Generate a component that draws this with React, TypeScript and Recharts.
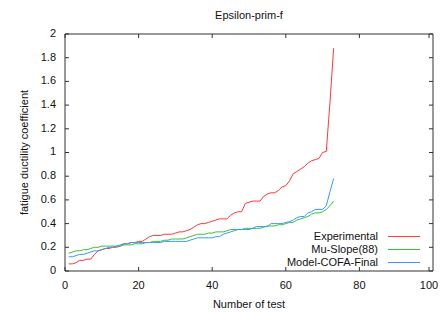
import React from "react";
import { LineChart, Line, XAxis, YAxis, Legend, Label } from "recharts";

const experimental = [
  0.06, 0.06, 0.07, 0.09, 0.09, 0.1, 0.1, 0.14, 0.17, 0.18,
  0.19, 0.19, 0.2, 0.2, 0.21, 0.23, 0.23, 0.24, 0.24, 0.25,
  0.25, 0.27, 0.29, 0.3, 0.3, 0.3, 0.31, 0.31, 0.31, 0.32,
  0.33, 0.33, 0.34, 0.35, 0.37, 0.39, 0.4, 0.4, 0.41, 0.42,
  0.43, 0.44, 0.44, 0.44, 0.47, 0.49, 0.5, 0.5, 0.57, 0.58,
  0.59, 0.59, 0.59, 0.63, 0.65, 0.66, 0.66, 0.68, 0.71, 0.72,
  0.76, 0.82, 0.84, 0.86, 0.88, 0.91, 0.93, 0.94, 0.95, 1.0,
  1.01, 1.42, 1.88,
];

const muSlope = [
  0.15, 0.16, 0.17, 0.17, 0.18, 0.18, 0.19, 0.2, 0.2, 0.21,
  0.21, 0.21, 0.21, 0.21, 0.21, 0.22, 0.22, 0.22, 0.23, 0.23,
  0.23, 0.24, 0.24, 0.25, 0.25, 0.25, 0.26, 0.26, 0.27, 0.27,
  0.27, 0.27, 0.28, 0.29, 0.3, 0.31, 0.31, 0.31, 0.32, 0.32,
  0.33, 0.33, 0.33, 0.34, 0.35, 0.35, 0.35, 0.35, 0.36, 0.36,
  0.36, 0.36, 0.36, 0.37, 0.38, 0.38, 0.38, 0.39, 0.39, 0.4,
  0.41, 0.41, 0.43, 0.44, 0.45, 0.46, 0.48, 0.49, 0.49, 0.5,
  0.52, 0.55, 0.59,
];

const cofaFinal = [
  0.12, 0.12, 0.13, 0.14, 0.14, 0.15, 0.16, 0.17, 0.17, 0.18,
  0.19, 0.2, 0.2, 0.21, 0.22, 0.23, 0.23, 0.24, 0.24, 0.24,
  0.24, 0.24, 0.24, 0.24, 0.24, 0.24, 0.25, 0.25, 0.25, 0.25,
  0.25, 0.25, 0.25, 0.26, 0.27, 0.28, 0.28, 0.28, 0.28, 0.28,
  0.29, 0.29, 0.31, 0.32, 0.33, 0.34, 0.35, 0.35, 0.35, 0.35,
  0.36, 0.375, 0.375, 0.375, 0.375, 0.4, 0.4, 0.4, 0.4, 0.41,
  0.415, 0.43, 0.45, 0.46, 0.46, 0.49, 0.5, 0.52, 0.52, 0.52,
  0.55, 0.67, 0.78,
];

const xTicks = [0, 20, 40, 60, 80, 100];
const yTicks = [0, 0.2, 0.4, 0.6, 0.8, 1, 1.2, 1.4, 1.6, 1.8, 2];

const seriesNames = ["Experimental", "Mu-Slope(88)", "Model-COFA-Final"];
const seriesColors = ["#ff3838", "#38c038", "#3898ff"];

const data = experimental.map((v, i) => ({
  test: i + 1,
  exp: v,
  mu: muSlope[i],
  cofa: cofaFinal[i],
}));

const FONT = "'Liberation Sans', Arial, sans-serif";
const AXIS = "#333333";
const TICK_LEN = 4;

const BottomTick = (props: any) => {
  const { x, y, payload } = props;
  return (
    <g>
      <line x1={x} x2={x} y1={y} y2={y - TICK_LEN} stroke={AXIS} />
      <text x={x} y={y + 15} textAnchor="middle" dominantBaseline="middle" fontSize={11} fontFamily={FONT} fill="#111">
        {payload.value}
      </text>
    </g>
  );
};

const TopTick = (props: any) => {
  const { x, y } = props;
  return <line x1={x} x2={x} y1={y} y2={y + TICK_LEN} stroke={AXIS} />;
};

const LeftTick = (props: any) => {
  const { x, y, payload } = props;
  return (
    <g>
      <line x1={x} x2={x + TICK_LEN} y1={y} y2={y} stroke={AXIS} />
      <text x={x - 9} y={y} textAnchor="end" dominantBaseline="middle" fontSize={11} fontFamily={FONT} fill="#111">
        {payload.value}
      </text>
    </g>
  );
};

const RightTick = (props: any) => {
  const { x, y } = props;
  return <line x1={x} x2={x - TICK_LEN} y1={y} y2={y} stroke={AXIS} />;
};

const renderLegend = () => {
  return (
    <div style={{ fontFamily: FONT, fontSize: 11, color: "#111" }}>
      {seriesNames.map((name, i) => (
        <div
          key={name}
          style={{ display: "flex", justifyContent: "flex-end", alignItems: "center", height: 13 }}
        >
          <span style={{ whiteSpace: "nowrap", lineHeight: "13px" }}>{name}</span>
          <svg width={32} height={1} style={{ marginLeft: 10, display: "block" }}>
            <rect x={0} y={0} width={32} height={1} fill={seriesColors[i]} />
          </svg>
        </div>
      ))}
    </div>
  );
};

export default function App() {
  return (
    <div style={{ position: "absolute", left: 0, top: 0, background: "#fff" }}>
      <LineChart
        width={441}
        height={312}
        data={data}
        margin={{ top: 33, right: 7, bottom: 0, left: 0 }}
      >
        <XAxis
          dataKey="test"
          type="number"
          domain={[0, 100]}
          ticks={xTicks}
          allowDataOverflow
          height={41}
          tickSize={0}
          tickMargin={0}
          tick={<BottomTick />}
          axisLine={{ stroke: AXIS }}
          tickLine={false}
        >
          <Label value="Number of test" position="insideBottom" offset={4} fontSize={11} fontFamily={FONT} fill="#111" />
        </XAxis>
        <XAxis
          xAxisId="top"
          orientation="top"
          dataKey="test"
          type="number"
          domain={[0, 100]}
          ticks={xTicks}
          allowDataOverflow
          height={1}
          tickSize={0}
          tickMargin={0}
          tick={<TopTick />}
          axisLine={{ stroke: AXIS }}
          tickLine={false}
        >
          <Label value="Epsilon-prim-f" position="top" offset={14} fontSize={11} fontFamily={FONT} fill="#111" />
        </XAxis>
        <YAxis
          type="number"
          domain={[0, 2]}
          ticks={yTicks}
          allowDataOverflow
          width={65}
          tickSize={0}
          tickMargin={0}
          tick={<LeftTick />}
          axisLine={{ stroke: AXIS }}
          tickLine={false}
        >
          <Label
            value="fatigue ductility coefficient"
            angle={-90}
            position="insideLeft"
            offset={24}
            textAnchor="middle"
            fontSize={11}
            fontFamily={FONT}
            fill="#111"
          />
        </YAxis>
        <YAxis
          yAxisId="right"
          orientation="right"
          type="number"
          domain={[0, 2]}
          ticks={yTicks}
          allowDataOverflow
          width={1}
          tickSize={0}
          tickMargin={0}
          tick={<RightTick />}
          axisLine={{ stroke: AXIS }}
          tickLine={false}
        />
        <Legend
          layout="vertical"
          align="center"
          verticalAlign="middle"
          content={renderLegend}
          wrapperStyle={{ left: 280, top: 230, width: 140, height: "auto" }}
        />
        <Line
          dataKey="exp"
          name={seriesNames[0]}
          stroke={seriesColors[0]}
          strokeWidth={1}
          dot={false}
          isAnimationActive={false}
        />
        <Line
          dataKey="mu"
          name={seriesNames[1]}
          stroke={seriesColors[1]}
          strokeWidth={1}
          dot={false}
          isAnimationActive={false}
        />
        <Line
          dataKey="cofa"
          name={seriesNames[2]}
          stroke={seriesColors[2]}
          strokeWidth={1}
          dot={false}
          isAnimationActive={false}
        />
      </LineChart>
    </div>
  );
}
